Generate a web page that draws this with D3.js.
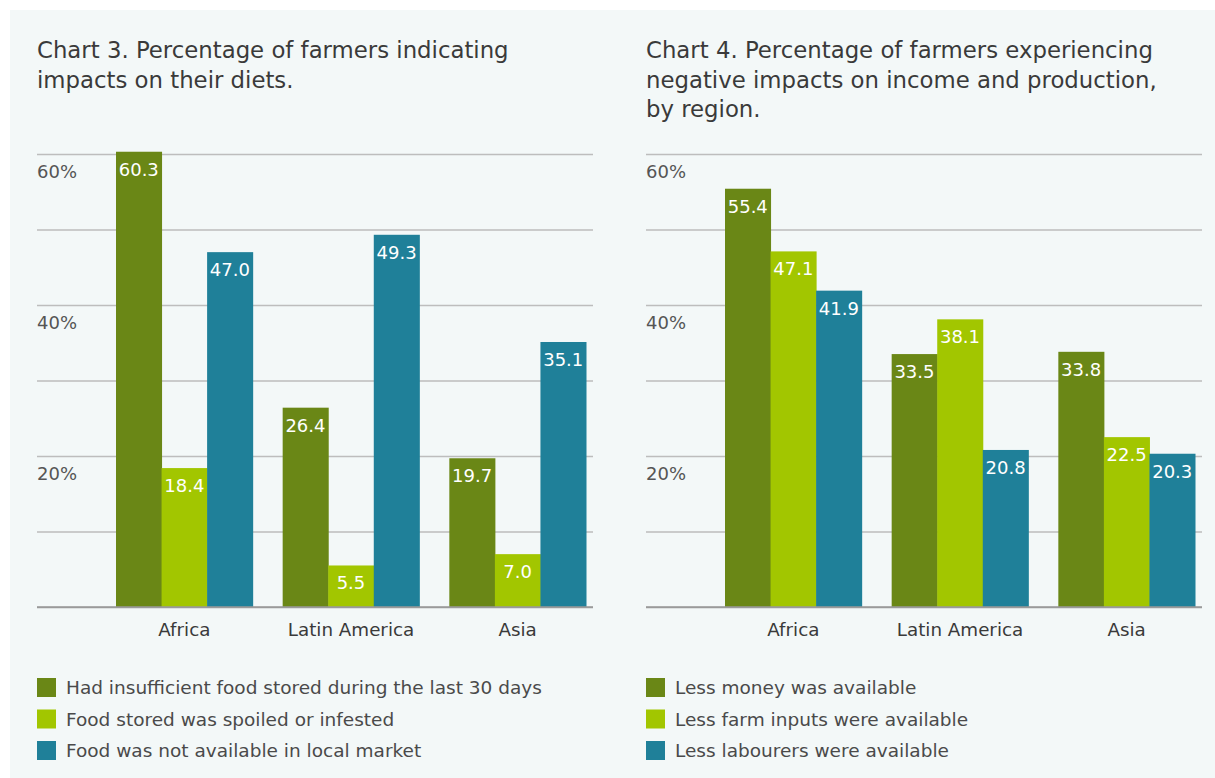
<!DOCTYPE html>
<html>
<head>
<meta charset="utf-8">
<script src="https://cdn.jsdelivr.net/npm/d3@7"></script>
<style>
  html, body { margin: 0; padding: 0; background: #ffffff; }
  svg { display: block; }
  text { font-family: "DejaVu Sans", "Open Sans", sans-serif; }
</style>
</head>
<body>
<svg id="chart" width="1215" height="778"></svg>
<script>
const categories = ["Africa", "Latin America", "Asia"];
const yTicks = [0, 10, 20, 30, 40, 50, 60];
const yTickLabels = [20, 40, 60];

const chart3Title = ["Chart 3. Percentage of farmers indicating", "impacts on their diets."];
const chart3Series = ["Had insufficient food stored during the last 30 days", "Food stored was spoiled or infested", "Food was not available in local market"];
const chart3Values = [
  [60.3, 18.4, 47.0],
  [26.4, 5.5, 49.3],
  [19.7, 7.0, 35.1]
];

const chart4Title = ["Chart 4. Percentage of farmers experiencing", "negative impacts on income and production,", "by region."];
const chart4Series = ["Less money was available", "Less farm inputs were available", "Less labourers were available"];
const chart4Values = [
  [55.4, 47.1, 41.9],
  [33.5, 38.1, 20.8],
  [33.8, 22.5, 20.3]
];

const colors = ["#6a8716", "#a2c600", "#1f8099"];

const svg = d3.select("#chart");
svg.append("rect").attr("x", 10).attr("y", 10).attr("width", 1205).attr("height", 768).attr("fill", "#f3f8f8");

function drawChart(opts) {
  const { left, right, title, series, values } = opts;
  const g = svg.append("g");

  // title
  g.append("text")
    .attr("x", left).attr("y", 58)
    .attr("fill", "#3a3a3a").attr("font-size", 22.8)
    .selectAll("tspan").data(title).join("tspan")
    .attr("x", left).attr("dy", (d, i) => i === 0 ? 0 : 29.5)
    .text(d => d);

  const y = d3.scaleLinear().domain([0, 60]).range([607, 154]);
  const x0 = d3.scaleBand().domain(categories)
    .range([left + 64, left + 564]).paddingInner(0.18).paddingOuter(0.09);
  const x1 = d3.scaleBand().domain(d3.range(series.length)).range([0, x0.bandwidth()]);

  // gridlines
  const grid = d3.axisLeft(y).tickValues(yTicks).tickSize(-(right - left)).tickFormat("");
  const gg = g.append("g").attr("transform", `translate(${left},0)`).call(grid);
  gg.select(".domain").remove();
  gg.selectAll(".tick line")
    .attr("stroke", d => d === 0 ? "#9a9a9a" : "#bdbdbd")
    .attr("stroke-width", 1.5);

  // tick labels (below line)
  g.selectAll(".ylab").data(yTickLabels).join("text")
    .attr("class", "ylab")
    .attr("x", left).attr("y", d => y(d) + 24)
    .attr("fill", "#555555").attr("font-size", 18)
    .text(d => d + "%");

  // bars
  const groups = g.selectAll(".grp").data(values).join("g")
    .attr("transform", (d, i) => `translate(${x0(categories[i])},0)`);
  groups.selectAll("rect").data(d => d).join("rect")
    .attr("x", (d, j) => x1(j)).attr("width", x1.bandwidth() + 0.5)
    .attr("y", d => y(d)).attr("height", d => y(0) - y(d))
    .attr("fill", (d, j) => colors[j]);
  groups.selectAll("text").data(d => d).join("text")
    .attr("x", (d, j) => x1(j) + x1.bandwidth() / 2)
    .attr("y", d => y(d) + 24)
    .attr("text-anchor", "middle").attr("fill", "#ffffff").attr("font-size", 18)
    .text(d => d.toFixed(1));

  // redraw baseline above bars
  g.append("line").attr("x1", left).attr("x2", right).attr("y1", y(0)).attr("y2", y(0))
    .attr("stroke", "#9a9a9a").attr("stroke-width", 1.5);

  // category axis
  const xa = d3.axisBottom(x0).tickSize(0).tickPadding(0);
  const xg = g.append("g").attr("transform", `translate(0,${y(0)})`).call(xa);
  xg.select(".domain").remove();
  xg.selectAll(".tick text")
    .attr("dy", 0).attr("y", 29)
    .attr("fill", "#3a3a3a").attr("font-size", 18.3)
    .attr("font-family", "'DejaVu Sans', sans-serif");

  // legend
  const lg = g.selectAll(".leg").data(series).join("g")
    .attr("transform", (d, i) => `translate(${left},${678 + i * 31.5})`);
  lg.append("rect").attr("width", 19).attr("height", 19).attr("fill", (d, i) => colors[i]);
  lg.append("text").attr("x", 29).attr("y", 16)
    .attr("fill", "#4a4a4a").attr("font-size", 18.5)
    .text(d => d);
}

drawChart({ left: 37, right: 593, title: chart3Title, series: chart3Series, values: chart3Values });
drawChart({ left: 646, right: 1202, title: chart4Title, series: chart4Series, values: chart4Values });
</script>
</body>
</html>
